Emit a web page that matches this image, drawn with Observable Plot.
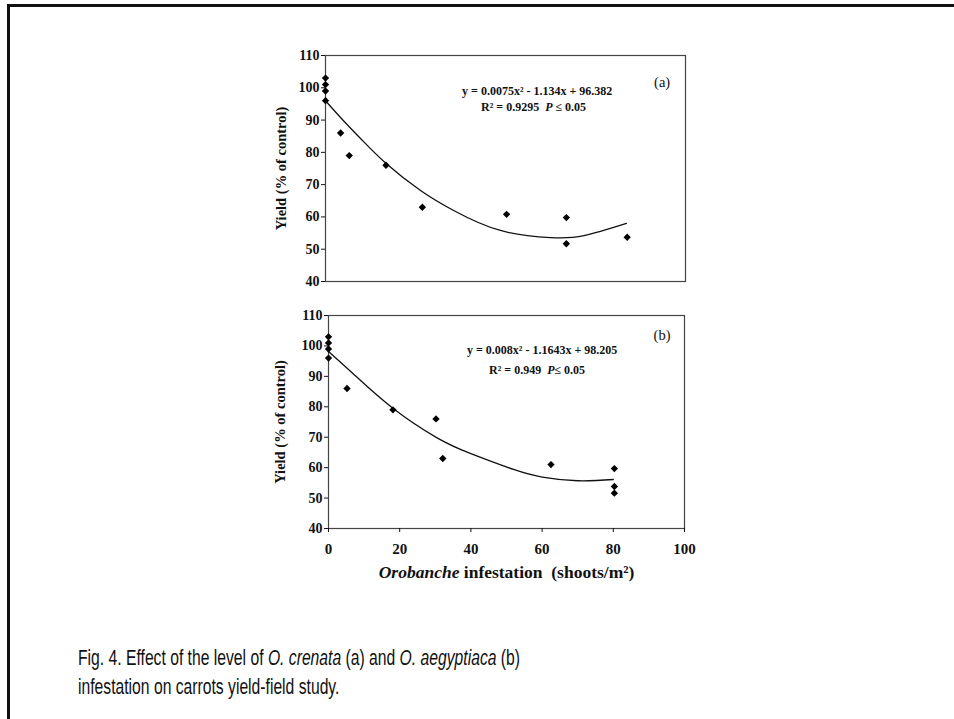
<!DOCTYPE html>
<html>
<head>
<meta charset="utf-8">
<script src="https://cdn.jsdelivr.net/npm/d3@7"></script>
<script src="https://cdn.jsdelivr.net/npm/@observablehq/plot@0.6"></script>
<style>
  body { margin: 0; width: 954px; height: 719px; position: relative; overflow: hidden; background: #fff; }
  #border { position: absolute; left: 7px; top: 4px; width: 980px; height: 760px; border-top: 3px solid #111; border-left: 3px solid #111; }
  .panel { position: absolute; left: 240px; }
  #cap { position: absolute; left: 78px; top: 643px; font-family: "Liberation Sans", Arial, sans-serif; font-size: 22.5px; line-height: 29px; color: #111; transform-origin: 0 0; white-space: nowrap; }
</style>
</head>
<body>
<div id="border"></div>
<div id="pa" class="panel" style="top:40px"></div>
<div id="pb" class="panel" style="top:300px"></div>
<div id="cap"><span id="cap1">Fig. 4. Effect of the level of <i>O. crenata</i> (a) and <i>O. aegyptiaca</i> (b)</span><br><span>infestation on carrots yield-field study.</span></div>
<script>
// ---- data ----
const yTicks = [40, 50, 60, 70, 80, 90, 100, 110];
const xTicks = [0, 20, 40, 60, 80, 100];

// panel (a): O. crenata
const xA = [0, 0, 0, 0, 4.2, 6.6, 16.8, 26.9, 50.3, 66.9, 66.9, 83.8];
const yA = [103, 101, 99, 96, 86, 79, 76, 63, 60.8, 59.8, 51.7, 53.7];
const xAfit = [0, 5, 10, 17, 26.4, 35.6, 48.6, 62.5, 71.8, 83.6];
const yAfit = [96, 89.8, 84, 76.4, 68.2, 62, 55.8, 53.6, 54.2, 58];
const eqA = "y = 0.0075x² - 1.134x + 96.382";
const r2A = "R² = 0.9295  P ≤ 0.05";

// panel (b): O. aegyptiaca
const xB = [0, 0, 0, 0, 5.2, 18.1, 30.2, 32.1, 62.5, 80.3, 80.3, 80.3];
const yB = [103, 101, 99, 96, 86, 79, 76, 63, 61, 59.7, 53.8, 51.6];
const xBfit = [0, 7, 18, 30.5, 40, 52, 60, 70, 80];
const yBfit = [98.2, 90.8, 79.6, 69.8, 64.6, 59.4, 56.9, 55.7, 56.1];
const eqB = "y = 0.008x² - 1.1643x + 98.205";
const r2B = "R² = 0.949  P≤ 0.05";

const yLabel = "Yield (% of control)";
const xLabel = "Orobanche infestation  (shoots/m²)";

const serif = "'Liberation Serif', 'Times New Roman', serif";

function panel(opts) {
  const pts = opts.xs.map((x, i) => ({x, y: opts.ys[i]}));
  const fit = opts.fx.map((x, i) => ({x, y: opts.fy[i]}));
  const marks = [
    Plot.frame({stroke: "#444", strokeWidth: 1.2}),
    Plot.axisY({ticks: yTicks, tickSize: 4, tickPadding: 2, label: null, fontSize: 14, tickFormat: d => String(d)}),
    Plot.line(fit, {x: "x", y: "y", curve: "natural", stroke: "#111", strokeWidth: 1.3}),
    Plot.dot(pts, {x: "x", y: "y", symbol: "diamond2", r: 3.3, fill: "#000", stroke: "none"}),
    Plot.text([opts.eq], {text: d => d, x: opts.eqPos[0], y: opts.eqPos[1], fontSize: 12, fontWeight: "bold"}),
    Plot.text([opts.r2], {text: d => d, x: opts.r2Pos[0], y: opts.r2Pos[1], fontSize: 12, fontWeight: "bold"}),
    Plot.text([opts.tag], {text: d => d, x: opts.tagPos[0], y: opts.tagPos[1], fontSize: 14.5, fontWeight: "normal"}),
    Plot.text([yLabel], {text: d => d, frameAnchor: "left", rotate: -90, dx: opts.yLabelDx, textAnchor: "middle", lineAnchor: "middle", fontSize: 14.5, fontWeight: "bold"})
  ];
  if (opts.xAxis) {
    marks.push(Plot.axisX({ticks: xTicks, tickSize: 4, tickPadding: 11, label: null, fontSize: 15, tickFormat: d => String(d)}));
    marks.push(Plot.text([xLabel], {text: d => d, frameAnchor: "bottom", dy: 44, lineAnchor: "middle", fontSize: 17.5, fontWeight: "bold"}));
  }
  return Plot.plot({
    width: 460,
    height: opts.height,
    marginLeft: opts.ml,
    marginRight: opts.mr,
    marginTop: 15,
    marginBottom: opts.mb,
    x: {domain: [0, 100], axis: null},
    y: {domain: [40, 110], axis: null},
    style: {fontFamily: serif, fontWeight: "bold", color: "#111", background: "transparent", overflow: "visible"},
    marks
  });
}

function italicize(svg) {
  svg.querySelectorAll("text").forEach(t => {
    const s = t.textContent;
    if (s.includes("P ≤") || s.includes("P≤")) {
      const i = s.indexOf("P");
      t.textContent = "";
      const a = document.createElementNS("http://www.w3.org/2000/svg", "tspan"); a.textContent = s.slice(0, i);
      const b = document.createElementNS("http://www.w3.org/2000/svg", "tspan"); b.textContent = "P"; b.setAttribute("font-style", "italic");
      const c = document.createElementNS("http://www.w3.org/2000/svg", "tspan"); c.textContent = s.slice(i + 1);
      t.setAttribute("style", "white-space: pre");
      t.append(a, b, c);
    } else if (s.startsWith("Orobanche")) {
      t.textContent = "";
      const a = document.createElementNS("http://www.w3.org/2000/svg", "tspan"); a.textContent = "Orobanche"; a.setAttribute("font-style", "italic");
      const b = document.createElementNS("http://www.w3.org/2000/svg", "tspan"); b.textContent = s.slice(9);
      t.setAttribute("style", "white-space: pre");
      t.append(a, b);
    }
  });
}

const a = panel({xs: xA, ys: yA, fx: xAfit, fy: yAfit, eq: eqA, r2: r2A, tag: "(a)",
  eqPos: [58.8, 99.1], r2Pos: [57.8, 94], tagPos: [93.5, 101.7],
  height: 260, ml: 85, mr: 15, mb: 19, yLabelDx: -44, xAxis: false});
const b = panel({xs: xB, ys: yB, fx: xBfit, fy: yBfit, eq: eqB, r2: r2B, tag: "(b)",
  eqPos: [60, 98.5], r2Pos: [58.6, 91.9], tagPos: [93.7, 103.4],
  height: 300, ml: 88, mr: 16, mb: 72, yLabelDx: -48, xAxis: true});
italicize(a); italicize(b);
document.getElementById("pa").appendChild(a);
document.getElementById("pb").appendChild(b);

// caption: condensed to match the reference width
const cap = document.getElementById("cap");
const w1 = document.getElementById("cap1").getBoundingClientRect().width;
cap.style.transform = `scaleX(${442 / w1})`;
</script>
</body>
</html>
